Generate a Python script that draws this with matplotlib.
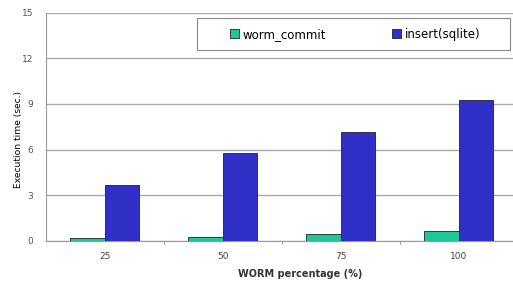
import matplotlib.pyplot as plt
from matplotlib.patches import Rectangle
import numpy as np

categories = ["25", "50", "75", "100"]
worm_commit = [0.17, 0.28, 0.46, 0.62]
insert_sqlite = [3.7, 5.75, 7.15, 9.25]
yticks = [0, 3, 6, 9, 12, 15]

fig = plt.figure(figsize=(5.13, 2.82), dpi=100)
ax = fig.add_axes([0.089, 0.146, 0.92, 0.809])

x = np.arange(len(categories))
w = 0.29
ax.bar(x - w / 2, worm_commit, w, color="#1ec896", edgecolor="#222222", linewidth=0.6,
       label="worm_commit", zorder=3)
ax.bar(x + w / 2, insert_sqlite, w, color="#3030c8", edgecolor="#222222", linewidth=0.6,
       label="insert(sqlite)", zorder=3)

ax.set_xlim(-0.5, 3.5)
ax.set_ylim(0, 15)
ax.set_yticks(yticks)
ax.set_yticklabels([str(t) for t in yticks], fontsize=6.5, color="#555555")
ax.set_xticks(x)
ax.set_xticklabels(categories, fontsize=6.5, color="#444444")
ax.set_xticks(x[:-1] + 0.5, minor=True)
ax.tick_params(axis="x", which="major", length=0, pad=8)
ax.tick_params(axis="x", which="minor", length=2, color="#888888")
ax.tick_params(axis="y", length=0, pad=9)

ax.yaxis.grid(True, color="#aaaaaa", linewidth=1.0, zorder=0)
for s in ["top", "right"]:
    ax.spines[s].set_visible(False)
ax.spines["left"].set_color("#999999")
ax.spines["bottom"].set_color("#999999")

ax.set_ylabel("Execution time (sec.)", fontsize=6.6)
ax.yaxis.set_label_coords(-0.048, 0.445)
ax.set_xlabel("WORM percentage (%)", fontsize=7, fontweight="bold", color="#333333")
ax.xaxis.set_label_coords(0.539, -0.125)

# legend box drawn separately so the entries can sit apart inside it
fig.patches.append(Rectangle((0.384, 0.823), 0.61, 0.113, transform=fig.transFigure,
                             facecolor="white", edgecolor="#888888", linewidth=0.8, zorder=5))
leg = fig.legend(loc="center", bbox_to_anchor=(0.692, 0.879), ncol=2, fontsize=8.5,
                 frameon=False, handlelength=0.75, handleheight=0.75, handletextpad=0.3,
                 columnspacing=5.6, borderaxespad=0)
leg.set_zorder(6)

fig.savefig("out.png", dpi=100)
